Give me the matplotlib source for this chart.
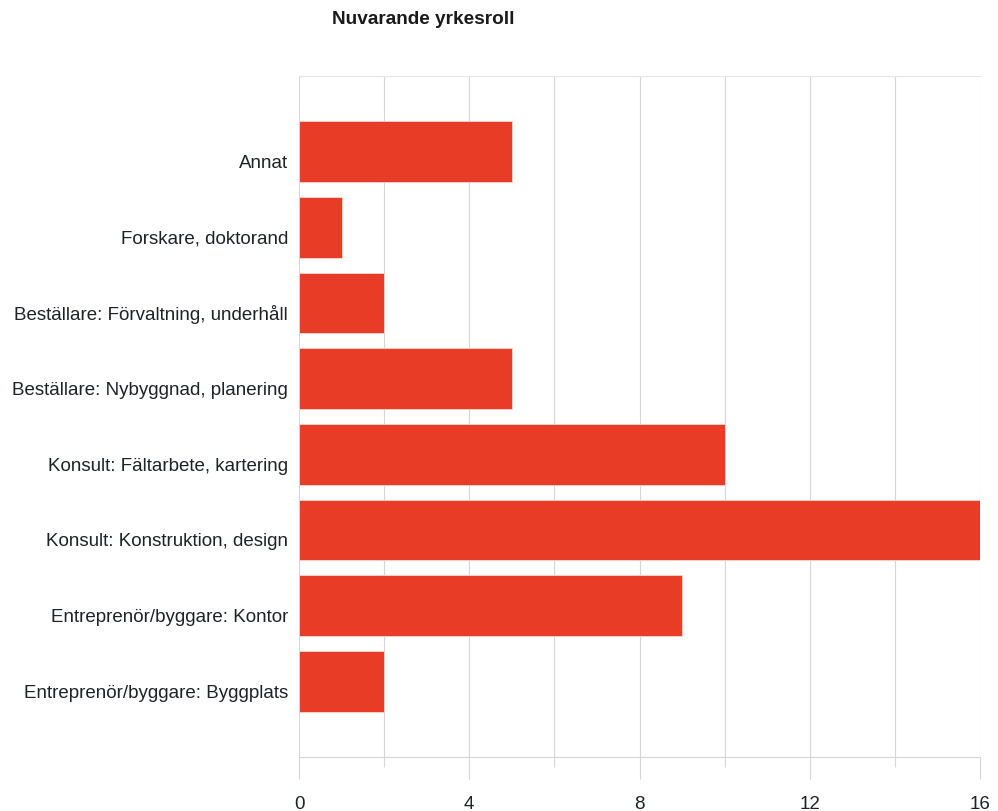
import matplotlib.pyplot as plt
from matplotlib.transforms import ScaledTranslation

plt.rcParams['font.family'] = ['Liberation Sans', 'DejaVu Sans']

roller = [
    "Entreprenör/byggare: Byggplats",
    "Entreprenör/byggare: Kontor",
    "Konsult: Konstruktion, design",
    "Konsult: Fältarbete, kartering",
    "Beställare: Nybyggnad, planering",
    "Beställare: Förvaltning, underhåll",
    "Forskare, doktorand",
    "Annat",
]
antal = [2, 9, 16, 10, 5, 2, 1, 5]
x_ticks = [0, 4, 8, 12, 16]

fig = plt.figure(figsize=(9.98, 8.12), dpi=100)
ax = fig.add_axes([0.2996, 0.0665, 0.6824, 0.8387])

ypos = list(range(len(roller)))
ax.barh(ypos, antal, height=0.8, color='#E83C27', edgecolor='#f3d6d0',
        linewidth=0.6, zorder=3)

ax.set_xlim(0, 16)
ax.set_ylim(-1, len(roller))
ax.set_yticks(ypos)
ax.set_yticklabels(roller, fontsize=13.5, color='#1f2328')
ax.tick_params(axis='y', length=0, pad=8)

# etiketterna sitter lite under staplarnas mitt i originalet
ned = ScaledTranslation(0, -9 / 100, fig.dpi_scale_trans)
for lbl in ax.get_yticklabels():
    lbl.set_transform(lbl.get_transform() + ned)

ax.set_xticks(x_ticks)
ax.set_xticks(range(2, 16, 4), minor=True)
ax.tick_params(axis='x', which='major', length=16, width=0.8, color='#d3d7dc',
               labelsize=13.5, labelcolor='#1f2328', pad=11)
ax.tick_params(axis='x', which='minor', length=7.5, width=0.8, color='#d3d7dc')
ax.grid(axis='x', which='both', color='#d3d7dc', linewidth=0.8, zorder=0)

for side in ['left', 'right']:
    ax.spines[side].set_visible(False)
ax.spines['top'].set_color('#e3e6ea')
ax.spines['bottom'].set_color('#d3d7dc')
ax.spines['top'].set_linewidth(0.8)
ax.spines['bottom'].set_linewidth(0.8)

fig.text(332 / 998, 1 - 19 / 812, "Nuvarande yrkesroll", fontsize=13.7,
         fontweight='bold', color='#1a1a1a', ha='left', va='center')

fig.savefig('out.png', dpi=100)
